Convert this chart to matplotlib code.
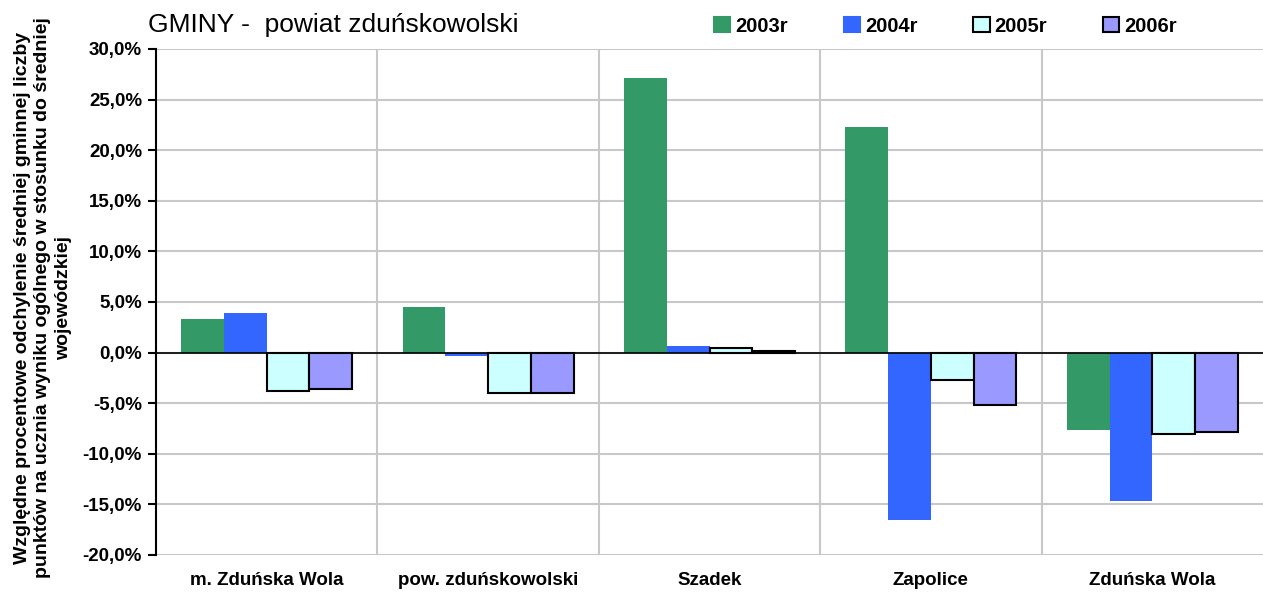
import matplotlib
matplotlib.use("Agg")
import matplotlib.pyplot as plt
import numpy as np
from matplotlib.ticker import FuncFormatter
from matplotlib.patches import Patch

categories = ["m. Zduńska Wola", "pow. zduńskowolski", "Szadek", "Zapolice", "Zduńska Wola"]
series_names = ["2003r", "2004r", "2005r", "2006r"]
v2003 = [3.3, 4.5, 27.1, 22.3, -7.6]
v2004 = [3.9, -0.3, 0.7, -16.5, -14.7]
v2005 = [-3.8, -4.0, 0.5, -2.7, -8.0]
v2006 = [-3.6, -4.0, 0.2, -5.2, -7.8]
yticks = [-20, -15, -10, -5, 0, 5, 10, 15, 20, 25, 30]

plt.rcParams['font.family'] = ['Liberation Sans', 'DejaVu Sans']

fig = plt.figure(figsize=(12.63, 5.96), dpi=100)
ax = fig.add_axes([156/1263, 1-555/596, 1-156/1263, (555-49)/596])

colors = ["#339966", "#3366FF", "#CCFFFF", "#9999FF"]
edges = ["none", "none", "black", "black"]
lws = [0, 0, 1.5, 1.5]
data = [v2003, v2004, v2005, v2006]
x = np.arange(len(categories))
w = 0.193
for i, (vals, c, ec, lw) in enumerate(zip(data, colors, edges, lws)):
    ax.bar(x + (i - 1.5) * w, vals, w, color=c, edgecolor=ec, linewidth=lw, zorder=3)

ax.set_xlim(-0.5, len(categories) - 0.5)
ax.set_ylim(-20, 30)
ax.set_yticks(yticks)
ax.yaxis.set_major_formatter(FuncFormatter(lambda v, p: f"{v:.1f}%".replace('.', ',')))
ax.set_xticks(x)
ax.set_xticklabels(categories, fontweight='bold', fontsize=13.5)
ax.tick_params(axis='x', length=0, pad=12)
ax.tick_params(axis='y', direction='out', length=6, width=1.5, labelsize=13.5, pad=4)
for lab in ax.get_yticklabels():
    lab.set_fontweight('bold')

for yv in yticks:
    ax.axhline(yv, color='#C8C8C8', lw=1.5, zorder=1)
for xv in np.arange(0.5, len(categories) - 0.5, 1):
    ax.axvline(xv, color='#C8C8C8', lw=1.5, zorder=1)
ax.axhline(0, color='black', lw=1.2, zorder=4)

for s in ['top', 'right', 'bottom']:
    ax.spines[s].set_visible(False)
ax.spines['left'].set_linewidth(1.5)

fig.text(43/1263, 1-298/596,
         "Względne procentowe odchylenie średniej gminnej liczby\npunktów na ucznia wyniku ogólnego w stosunku do średniej\nwojewódzkiej",
         fontweight='bold', fontsize=14, linespacing=1.25, rotation=90, ha='center', va='center',
         multialignment='center')

fig.text(148/1263, 1-25/596, "GMINY -  powiat zduńskowolski", fontsize=19, va='center', ha='left')

handles = [Patch(facecolor=c, edgecolor=(ec if ec != "none" else c), linewidth=1.5) for c, ec in zip(colors, edges)]
leg = fig.legend(handles, series_names, loc='center left', bbox_to_anchor=(706/1263, 1-26/596),
                 ncol=4, frameon=False, handlelength=0.8, handleheight=0.8, handletextpad=0.25,
                 columnspacing=2.78, borderaxespad=0, prop={'weight': 'bold', 'size': 14.5})

fig.savefig("out.png", dpi=100)
